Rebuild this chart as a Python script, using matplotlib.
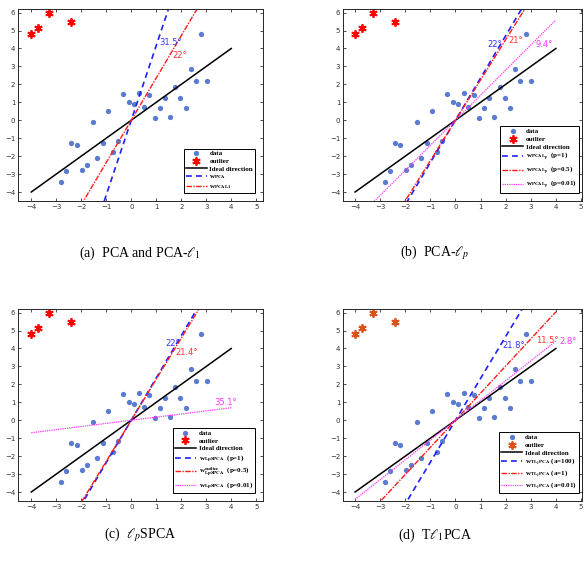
import numpy as np
import matplotlib
matplotlib.use('Agg')
import matplotlib.pyplot as plt

plt.rcParams['mathtext.fontset'] = 'stix'

# data points (same in all four panels)
data_x = [-0.32, -0.11, 0.09, 0.32, 0.72, 0.51, 1.13, 1.35, 0.93, 1.55, 1.76, 1.96, 2.17, 2.39, 2.59,
          3.01, 2.80, -0.95, -1.55, -2.40, -2.19, -1.15, -0.55, -0.73, -1.36, -1.76, -1.99, -2.60, -2.81]
data_y = [1.45, 1.00, 0.89, 1.54, 1.39, 0.72, 0.67, 1.25, 0.11, 0.17, 1.84, 1.23, 0.71, 2.83, 2.19,
          2.16, 4.83, 0.52, -0.07, -1.25, -1.36, -1.28, -1.15, -1.75, -2.10, -2.47, -2.77, -2.85, -3.44]
outlier_x = [-4.0, -3.72, -3.30, -2.41]
outlier_y = [4.83, 5.13, 6.00, 5.48]

# angle (deg) of each estimated direction away from the ideal 45 deg line
angles_a = [31.5, 22.0]
angles_b = [22.0, 21.0, 9.4]
angles_c = [22.0, 21.4, -35.1]
angles_d = [21.8, 11.5, 2.8]

labels_a = [r'w$_{\mathbf{PCA}}$', r'w$_{\mathbf{PCAL1}}$']
labels_b = [r'w$_{\mathbf{PCAL}_\mathbf{p}}$  (p=1)', r'w$_{\mathbf{PCAL}_\mathbf{p}}$  (p=0.5)',
            r'w$_{\mathbf{PCAL}_\mathbf{p}}$  (p=0.01)']
labels_c = [r'w$_{\mathbf{LpSPCA}}$  (p=1)', r'w$^{\mathbf{outlier}}_{\mathbf{LpSPCA}}$  (p=0.5)',
            r'w$_{\mathbf{LpSPCA}}$  (p=0.01)']
labels_d = [r'w$_{\mathbf{TL_1PCA}}$ (a=100)', r'w$_{\mathbf{TL_1PCA}}$ (a=1)',
            r'w$_{\mathbf{TL_1PCA}}$ (a=0.01)']

# where the angle labels sit
text_a = [(1.13, 4.36), (1.65, 3.62)]
text_b = [(1.27, 4.24), (2.1, 4.44), (3.2, 4.2)]
text_c = [(1.36, 4.25), (1.76, 3.8), (3.32, 0.99)]
text_d = [(1.88, 4.17), (3.2, 4.47), (4.13, 4.41)]

captions = [r'(a)  PCA and PCA-$\ell_1$', r'(b)  PCA-$\ell_p$', r'(c)  $\ell_p$SPCA', r'(d)  T$\ell_1$PCA']

styles = [dict(color='#1f1fff', ls=(0, (3.5, 2.5)), lw=1.2),
          dict(color='#ff1a1a', ls=(0, (4, 1, 1, 1)), lw=1.0),
          dict(color='#ff33ff', ls=(0, (1, 0.8)), lw=0.9)]
text_colors = ['#3333ff', '#ff3333', '#ff33ff']

fig = plt.figure(figsize=(5.84, 5.67), dpi=100)
W, H = 584, 567
boxes = [(18, 9, 245, 192), (343, 9, 239, 192), (18, 309, 245, 192), (343, 309, 239, 192)]
xlims = [(-4.53, 5.27), (-4.48, 5.04), (-4.53, 5.27), (-4.48, 5.04)]
all_angles = [angles_a, angles_b, angles_c, angles_d]
all_labels = [labels_a, labels_b, labels_c, labels_d]
all_text = [text_a, text_b, text_c, text_d]
legend_anchor = [(255, 193), (579, 193), (255, 493), (579, 493)]
caption_pos = [(140, 253), (435, 253), (140, 535), (435, 535)]

xs = np.array([-4.0, 4.0])
for i in range(4):
    l, t, w, h = boxes[i]
    ax = fig.add_axes([l / W, 1 - (t + h) / H, w / W, h / H])
    out_col = '#d95319' if i == 3 else 'red'
    ax.plot(data_x, data_y, 'o', color='#5b7bd0', ms=3.8, mec='none', label='data')
    ax.plot(outlier_x, outlier_y, ls='none', marker=(6, 2, 0), color=out_col, ms=6, mew=1.3, label='outlier')
    ax.plot(xs, xs, color='black', lw=1.1, label='Ideal direction')
    for j, ang in enumerate(all_angles[i]):
        slope = np.tan(np.radians(45 + ang))
        ax.plot(xs, slope * xs, label=all_labels[i][j], **styles[j])
        tx, ty = all_text[i][j]
        ax.text(tx, ty, '%g°' % abs(ang), color=text_colors[j], fontsize=6, va='center', ha='left')
    ax.set_xlim(*xlims[i])
    ax.set_ylim(-4.5, 6.2)
    ax.set_xticks(range(-4, 6))
    ax.set_yticks(range(-4, 7))
    ax.tick_params(direction='in', top=True, right=True, labelsize=5, length=2.5, width=0.6,
                   colors='#333333', pad=2)
    for s in ax.spines.values():
        s.set_linewidth(0.7)
        s.set_color('#262626')
    lx, ly = legend_anchor[i]
    leg = ax.legend(loc='lower right', bbox_to_anchor=((lx - l) / w, (t + h - ly) / h),
                    prop={'family': 'Liberation Serif', 'weight': 'bold', 'size': 5},
                    fancybox=False, edgecolor='black', framealpha=1, borderpad=0.3,
                    handlelength=3.0, handletextpad=0.4, labelspacing=0.25, borderaxespad=0)
    leg.get_frame().set_linewidth(0.7)
    cx, cy = caption_pos[i]
    fig.text(cx / W, 1 - cy / H, captions[i], ha='center', va='center', fontsize=10,
             family='Liberation Serif')

fig.savefig('out.png', dpi=100)
